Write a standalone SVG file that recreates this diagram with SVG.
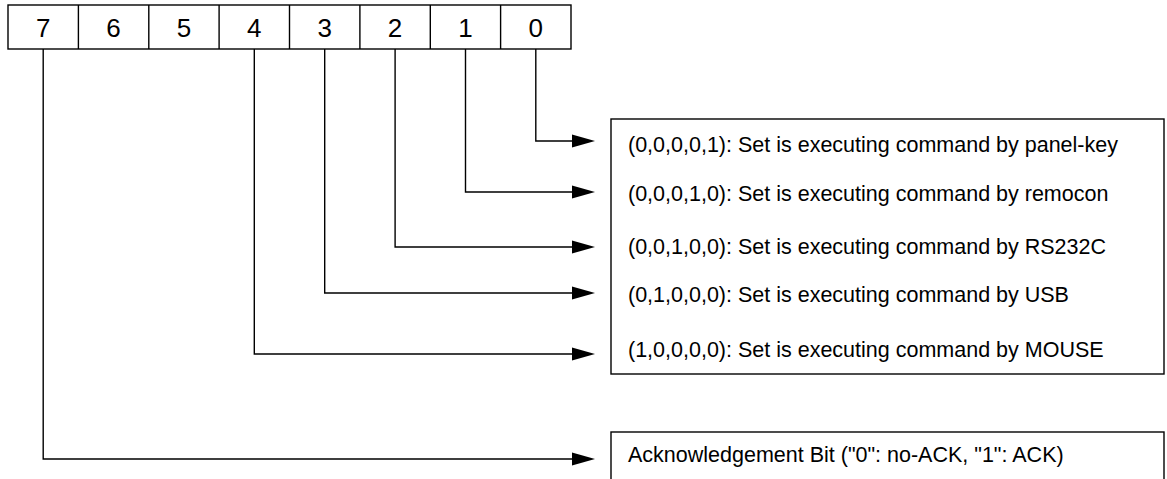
<svg xmlns="http://www.w3.org/2000/svg" width="1167" height="479" viewBox="0 0 1167 479">
<style>
.cell{fill:#fff;stroke:#000;stroke-width:1.4}
.box{fill:#fff;stroke:#000;stroke-width:1.4}
.num{font-family:"Liberation Sans",Arial,sans-serif;font-size:26px;fill:#000;text-anchor:middle}
.lbl{font-family:"Liberation Sans",Arial,sans-serif;font-size:21.5px;fill:#000}
.wire{fill:none;stroke:#000;stroke-width:1.4}
.head{fill:#000}
</style>
<rect width="1167" height="479" fill="#fff"/>
<g id="register">
<rect class="cell" x="8" y="5" width="563" height="44"/>
<line class="wire" x1="78.4" y1="5" x2="78.4" y2="49"/>
<line class="wire" x1="148.8" y1="5" x2="148.8" y2="49"/>
<line class="wire" x1="219.1" y1="5" x2="219.1" y2="49"/>
<line class="wire" x1="289.5" y1="5" x2="289.5" y2="49"/>
<line class="wire" x1="359.9" y1="5" x2="359.9" y2="49"/>
<line class="wire" x1="430.3" y1="5" x2="430.3" y2="49"/>
<line class="wire" x1="500.6" y1="5" x2="500.6" y2="49"/>
<text class="num" x="43.2" y="37">7</text>
<text class="num" x="113.6" y="37">6</text>
<text class="num" x="184" y="37">5</text>
<text class="num" x="254.3" y="37">4</text>
<text class="num" x="324.7" y="37">3</text>
<text class="num" x="395.1" y="37">2</text>
<text class="num" x="465.5" y="37">1</text>
<text class="num" x="535.8" y="37">0</text>
</g>
<g id="modes">
<rect class="box" x="611" y="119" width="553" height="255"/>
<text class="lbl" x="628" y="152">(0,0,0,0,1): Set is executing command by panel-key</text>
<text class="lbl" x="628" y="201">(0,0,0,1,0): Set is executing command by remocon</text>
<text class="lbl" x="628" y="254">(0,0,1,0,0): Set is executing command by RS232C</text>
<text class="lbl" x="628" y="302">(0,1,0,0,0): Set is executing command by USB</text>
<text class="lbl" x="628" y="357">(1,0,0,0,0): Set is executing command by MOUSE</text>
</g>
<g id="ack">
<rect class="box" x="611" y="432" width="553" height="60"/>
<text class="lbl" x="628" y="462">Acknowledgement Bit ("0": no-ACK, "1": ACK)</text>
</g>
<g id="connectors">
<polyline class="wire" points="535.8,49 535.8,141 572,141"/>
<polygon class="head" points="572,134.5 595,141 572,147.5"/>
<polyline class="wire" points="465.5,49 465.5,192 572,192"/>
<polygon class="head" points="572,185.5 595,192 572,198.5"/>
<polyline class="wire" points="395.1,49 395.1,247 572,247"/>
<polygon class="head" points="572,240.5 595,247 572,253.5"/>
<polyline class="wire" points="324.7,49 324.7,293 572,293"/>
<polygon class="head" points="572,286.5 595,293 572,299.5"/>
<polyline class="wire" points="254.3,49 254.3,354 572,354"/>
<polygon class="head" points="572,347.5 595,354 572,360.5"/>
<polyline class="wire" points="43.2,49 43.2,459 572,459"/>
<polygon class="head" points="572,452.5 595,459 572,465.5"/>
</g>
</svg>
